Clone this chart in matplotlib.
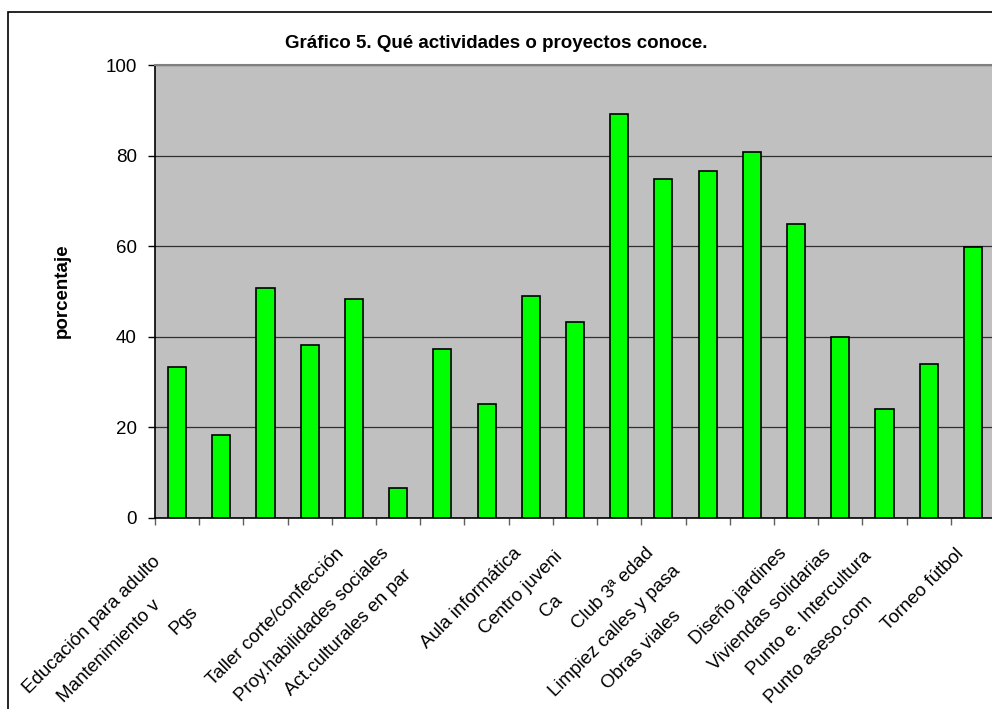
import numpy as np
import matplotlib
matplotlib.use("Agg")
import matplotlib.pyplot as plt
from matplotlib.patches import Rectangle

plt.rcParams['font.family'] = ['Liberation Sans', 'DejaVu Sans']

# etiquetas tal como se ven (Excel recorta las que se pisan)
actividades = [
    "Educación para adulto", "Mantenimiento v", "Pgs", "",
    "Taller corte/confección", "Proy.habilidades sociales",
    "Act.culturales en par", "", "Aula informática", "Centro juveni",
    "Ca", "Club 3ª edad", "Limpiez calles y pasa", "Obras viales",
    "Diseño jardines", "Viviendas solidarias", "Punto e. Intercultura",
    "Punto aseso.com", "Torneo fútbol",
]
porcentaje = [33.4, 18.3, 50.8, 38.3, 48.3, 6.7, 37.4, 25.1, 49.0, 43.3,
              89.1, 74.9, 76.6, 80.7, 64.9, 40.0, 24.1, 34.1, 59.8]
# indice de la etiqueta que corta a cada una
cortada_por = [2, 2, 4, None, None, None, 8, None, None, 11,
               11, None, 14, 14, None, None, 18, 18, None]

n = len(porcentaje)
x = np.arange(n)

fig = plt.figure(figsize=(9.92, 7.09), dpi=100)
ax = fig.add_axes([155 / 992, 1 - 518 / 709, 840 / 992, 453 / 709])
ax.set_facecolor('#c0c0c0')
ax.bar(x, porcentaje, width=0.41, color='#00ff00', edgecolor='black',
       linewidth=1.2, zorder=3)

ax.set_xlim(-0.5, n - 0.5)
ax.set_ylim(0, 100)
ax.set_yticks(range(0, 101, 20))
ax.yaxis.grid(True, color='#303030', linewidth=0.9)
ax.set_axisbelow(True)
ax.set_xticks(np.arange(-0.5, n), labels=[])
ax.tick_params(axis='x', length=5, width=1, color='#606060')
ax.tick_params(axis='y', length=5, width=1, labelsize=13.5, pad=8)
ax.spines['right'].set_visible(False)
ax.spines['top'].set_color('#808080')
ax.spines['top'].set_linewidth(1.5)
ax.spines['left'].set_linewidth(1.2)
ax.spines['bottom'].set_linewidth(1.2)

# marco exterior del grafico
fig.patches.append(Rectangle((8 / 992, -0.1), 1.2, 1 - 12 / 709 + 0.1,
                             transform=fig.transFigure, fill=False,
                             edgecolor='black', linewidth=1.2))

fig.text(0.5, 1 - 43 / 709, "Gráfico 5. Qué actividades o proyectos conoce.",
         ha='center', va='center', fontsize=13.5, weight='bold')
fig.text(62 / 992, 1 - 291 / 709, "porcentaje", rotation=90,
         ha='center', va='center', fontsize=13.5, weight='bold')

# etiquetas del eje x, de derecha a izquierda
fig.canvas.draw()
renderer = fig.canvas.get_renderer()
inv = fig.transFigure.inverted()
textos = [None] * n
for i in reversed(range(n)):
    if not actividades[i]:
        continue
    cx, cy = ax.transData.transform((x[i], 0))
    px, py = cx - 18, cy - 27
    t = fig.text(*inv.transform((px, py)), actividades[i], rotation=45,
                 rotation_mode='anchor', ha='right', va='top', fontsize=13.5)
    j = cortada_por[i]
    if j is not None:
        bb = t.get_window_extent(renderer)
        limite = textos[j].get_window_extent(renderer).x0 - 3
        d = bb.x1 - limite
        t.set_position(inv.transform((px - d, py - d)))
    textos[i] = t

fig.savefig('out.png', dpi=100)
